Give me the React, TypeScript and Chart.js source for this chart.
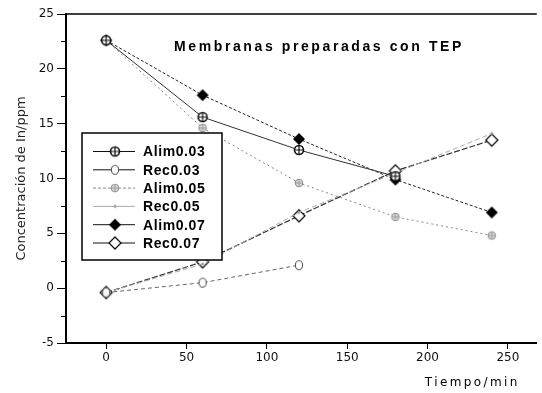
import React, { useEffect, useRef } from "react";
import { Chart, registerables } from "chart.js";

Chart.register(...registerables);

// ---- data ----
const times = [0, 60, 120, 180, 240];
const alim003 = [22.6, 15.6, 12.6, 10.2, null];
const rec003 = [-0.4, 0.5, 2.1, null, null];
const alim005 = [22.6, 14.6, 9.6, 6.5, 4.8];
const rec005 = [-0.4, 2.2, 6.9, 10.5, 14.1];
const alim007 = [22.6, 17.6, 13.6, 9.9, 6.9];
const rec007 = [-0.4, 2.4, 6.6, 10.7, 13.5];
const seriesNames = ["Alim0.03", "Rec0.03", "Alim0.05", "Rec0.05", "Alim0.07", "Rec0.07"];
const xTicks = [0, 50, 100, 150, 200, 250];
const yTicks = [-5, 0, 5, 10, 15, 20, 25];
const chartTitle = "Membranas preparadas con TEP";
const xTitle = "Tiempo/min";
const yTitle = "Concentración de In/ppm";

type MarkerKind = "crossCircle" | "openCircle" | "hatchCircle" | "dot" | "diamond" | "openDiamond";

function makeMarker(kind: MarkerKind): HTMLCanvasElement {
  const c = document.createElement("canvas");
  c.width = 16;
  c.height = 16;
  const g = c.getContext("2d")!;
  const cx = 8, cy = 8;
  g.lineWidth = 1.2;
  if (kind === "crossCircle") {
    g.beginPath();
    g.arc(cx, cy, 4.5, 0, Math.PI * 2);
    g.fillStyle = "#fff";
    g.fill();
    g.strokeStyle = "#111";
    g.lineWidth = 1.6;
    g.stroke();
    g.lineWidth = 1.2;
    g.beginPath();
    g.moveTo(cx - 4.5, cy); g.lineTo(cx + 4.5, cy);
    g.moveTo(cx, cy - 4.5); g.lineTo(cx, cy + 4.5);
    g.stroke();
  } else if (kind === "openCircle") {
    g.beginPath();
    g.ellipse(cx, cy, 3.6, 4.5, 0, 0, Math.PI * 2);
    g.fillStyle = "#fff";
    g.fill();
    g.strokeStyle = "#555";
    g.lineWidth = 1.1;
    g.stroke();
  } else if (kind === "hatchCircle") {
    g.beginPath();
    g.arc(cx, cy, 3.8, 0, Math.PI * 2);
    g.fillStyle = "#ddd";
    g.fill();
    g.strokeStyle = "#888";
    g.lineWidth = 1;
    g.stroke();
    g.beginPath();
    g.moveTo(cx - 3, cy); g.lineTo(cx + 3, cy);
    g.moveTo(cx, cy - 3); g.lineTo(cx, cy + 3);
    g.strokeStyle = "#999";
    g.stroke();
  } else if (kind === "dot") {
    g.beginPath();
    g.arc(cx, cy, 1.4, 0, Math.PI * 2);
    g.fillStyle = "#999";
    g.fill();
  } else if (kind === "diamond" || kind === "openDiamond") {
    const r = 6;
    g.beginPath();
    g.moveTo(cx, cy - r); g.lineTo(cx + r, cy); g.lineTo(cx, cy + r); g.lineTo(cx - r, cy);
    g.closePath();
    if (kind === "diamond") {
      g.fillStyle = "#000";
      g.fill();
    } else {
      g.fillStyle = "#fff";
      g.fill();
      g.strokeStyle = "#111";
      g.lineWidth = 1.3;
      g.stroke();
    }
  }
  return c;
}

const FONT = "'DejaVu Sans', 'Liberation Sans', sans-serif";
const BOLD = "'Liberation Sans', Arial, sans-serif";

export default function App() {
  const ref = useRef<HTMLCanvasElement | null>(null);

  useEffect(() => {
    document.body.style.margin = "0";
    const canvas = ref.current;
    if (!canvas) return;

    const styles = [
      { color: "#333", dash: [] as number[], width: 1, marker: makeMarker("crossCircle") },
      { color: "#666", dash: [4, 3], width: 1, marker: makeMarker("openCircle") },
      { color: "#888", dash: [2, 3], width: 1, marker: makeMarker("hatchCircle") },
      { color: "#aaa", dash: [5, 3], width: 1, marker: makeMarker("dot") },
      { color: "#222", dash: [3, 2], width: 1, marker: makeMarker("diamond") },
      { color: "#333", dash: [6, 2], width: 1.2, marker: makeMarker("openDiamond") },
    ];
    const seriesValues = [alim003, rec003, alim005, rec005, alim007, rec007];

    const datasets = seriesValues.map((vals, i) => ({
      label: seriesNames[i],
      data: times
        .map((t, j) => ({ x: t, y: vals[j] }))
        .filter((p) => p.y !== null && p.y !== undefined) as { x: number; y: number }[],
      borderColor: styles[i].color,
      borderWidth: styles[i].width,
      borderDash: styles[i].dash,
      pointStyle: styles[i].marker as any,
      backgroundColor: styles[i].color,
      fill: false,
      tension: 0,
    }));

    const decorPlugin = {
      id: "decor",
      afterDraw(chart: any) {
        const ctx: CanvasRenderingContext2D = chart.ctx;
        const ca = chart.chartArea;
        const ys = chart.scales.y;
        ctx.save();
        // top border
        ctx.strokeStyle = "#000";
        ctx.lineWidth = 1.5;
        ctx.beginPath();
        ctx.moveTo(ca.left, ca.top);
        ctx.lineTo(ca.right, ca.top);
        ctx.stroke();
        // minor y ticks
        ctx.lineWidth = 1;
        for (let i = 0; i < yTicks.length - 1; i++) {
          const v = (yTicks[i] + yTicks[i + 1]) / 2;
          const py = Math.round(ys.getPixelForValue(v)) + 0.5;
          ctx.beginPath();
          ctx.moveTo(ca.left - 5, py);
          ctx.lineTo(ca.left, py);
          ctx.stroke();
        }
        // chart title
        ctx.fillStyle = "#000";
        ctx.font = `bold 14px ${BOLD}`;
        (ctx as any).letterSpacing = "2.6px";
        ctx.textAlign = "center";
        ctx.textBaseline = "middle";
        ctx.fillText(chartTitle, ca.left + 253, ca.top + 33);
        // x title
        ctx.font = `12px ${FONT}`;
        (ctx as any).letterSpacing = "2.4px";
        ctx.textAlign = "right";
        ctx.fillText(xTitle, ca.right - 17, ca.bottom + 40);
        (ctx as any).letterSpacing = "0px";

        // legend
        const bx = ca.left + 16;
        const by = ca.top + 119;
        const bw = 140;
        const bh = 127;
        ctx.fillStyle = "#fff";
        ctx.fillRect(bx, by, bw, bh);
        ctx.strokeStyle = "#000";
        ctx.lineWidth = 1.5;
        ctx.strokeRect(bx, by, bw, bh);
        const rowH = 18.3;
        ctx.font = `bold 14px ${BOLD}`;
        (ctx as any).letterSpacing = "0.6px";
        ctx.textAlign = "left";
        ctx.textBaseline = "middle";
        seriesNames.forEach((name, i) => {
          const ry = by + 18.5 + i * rowH;
          ctx.strokeStyle = i === 2 || i === 3 ? styles[i].color : "#111";
          ctx.lineWidth = 1;
          ctx.setLineDash(i === 2 ? [3, 2] : []);
          ctx.beginPath();
          ctx.moveTo(bx + 11, ry);
          ctx.lineTo(bx + 53, ry);
          ctx.stroke();
          ctx.setLineDash([]);
          const m = styles[i].marker;
          ctx.drawImage(m, bx + 33 - m.width / 2, ry - m.height / 2);
          ctx.fillStyle = "#000";
          ctx.fillText(name, bx + 61, ry + 1);
        });
        (ctx as any).letterSpacing = "0px";
        ctx.restore();
      },
    };

    const chart = new Chart(canvas, {
      type: "line",
      data: { datasets: datasets as any },
      options: {
        animation: false,
        responsive: true,
        maintainAspectRatio: false,
        layout: { padding: { top: 14, right: 1, left: 0, bottom: 0 } },
        plugins: {
          legend: { display: false },
          tooltip: { enabled: false },
          title: { display: false },
        },
        scales: {
          x: {
            type: "linear",
            min: -25,
            max: 268,
            afterBuildTicks: (s: any) => {
              s.ticks = xTicks.map((v) => ({ value: v }));
            },
            afterFit: (s: any) => {
              s.height = 50;
            },
            grid: {
              display: true,
              drawOnChartArea: false,
              drawTicks: true,
              tickLength: 6,
              color: "#000",
            },
            border: { display: true, color: "#000", width: 2 },
            ticks: {
              color: "#111",
              font: { family: FONT, size: 12 },
              padding: 2,
              maxRotation: 0,
              autoSkip: false,
            },
          },
          y: {
            type: "linear",
            min: -5,
            max: 25,
            afterBuildTicks: (s: any) => {
              s.ticks = yTicks.map((v) => ({ value: v }));
            },
            afterFit: (s: any) => {
              s.width = 66;
            },
            grid: {
              display: true,
              drawOnChartArea: false,
              drawTicks: true,
              tickLength: 9,
              color: "#000",
            },
            border: { display: true, color: "#000", width: 2 },
            ticks: {
              color: "#111",
              font: { family: FONT, size: 12 },
              padding: 3,
            },
            title: {
              display: true,
              text: yTitle,
              color: "#222",
              font: { family: FONT, size: 13 },
              padding: { top: 14, bottom: 0 },
            },
          },
        },
      },
      plugins: [decorPlugin],
    });

    return () => chart.destroy();
  }, []);

  return (
    <div style={{ width: 542, height: 393, position: "relative", background: "#fff" }}>
      <canvas ref={ref} />
    </div>
  );
}
